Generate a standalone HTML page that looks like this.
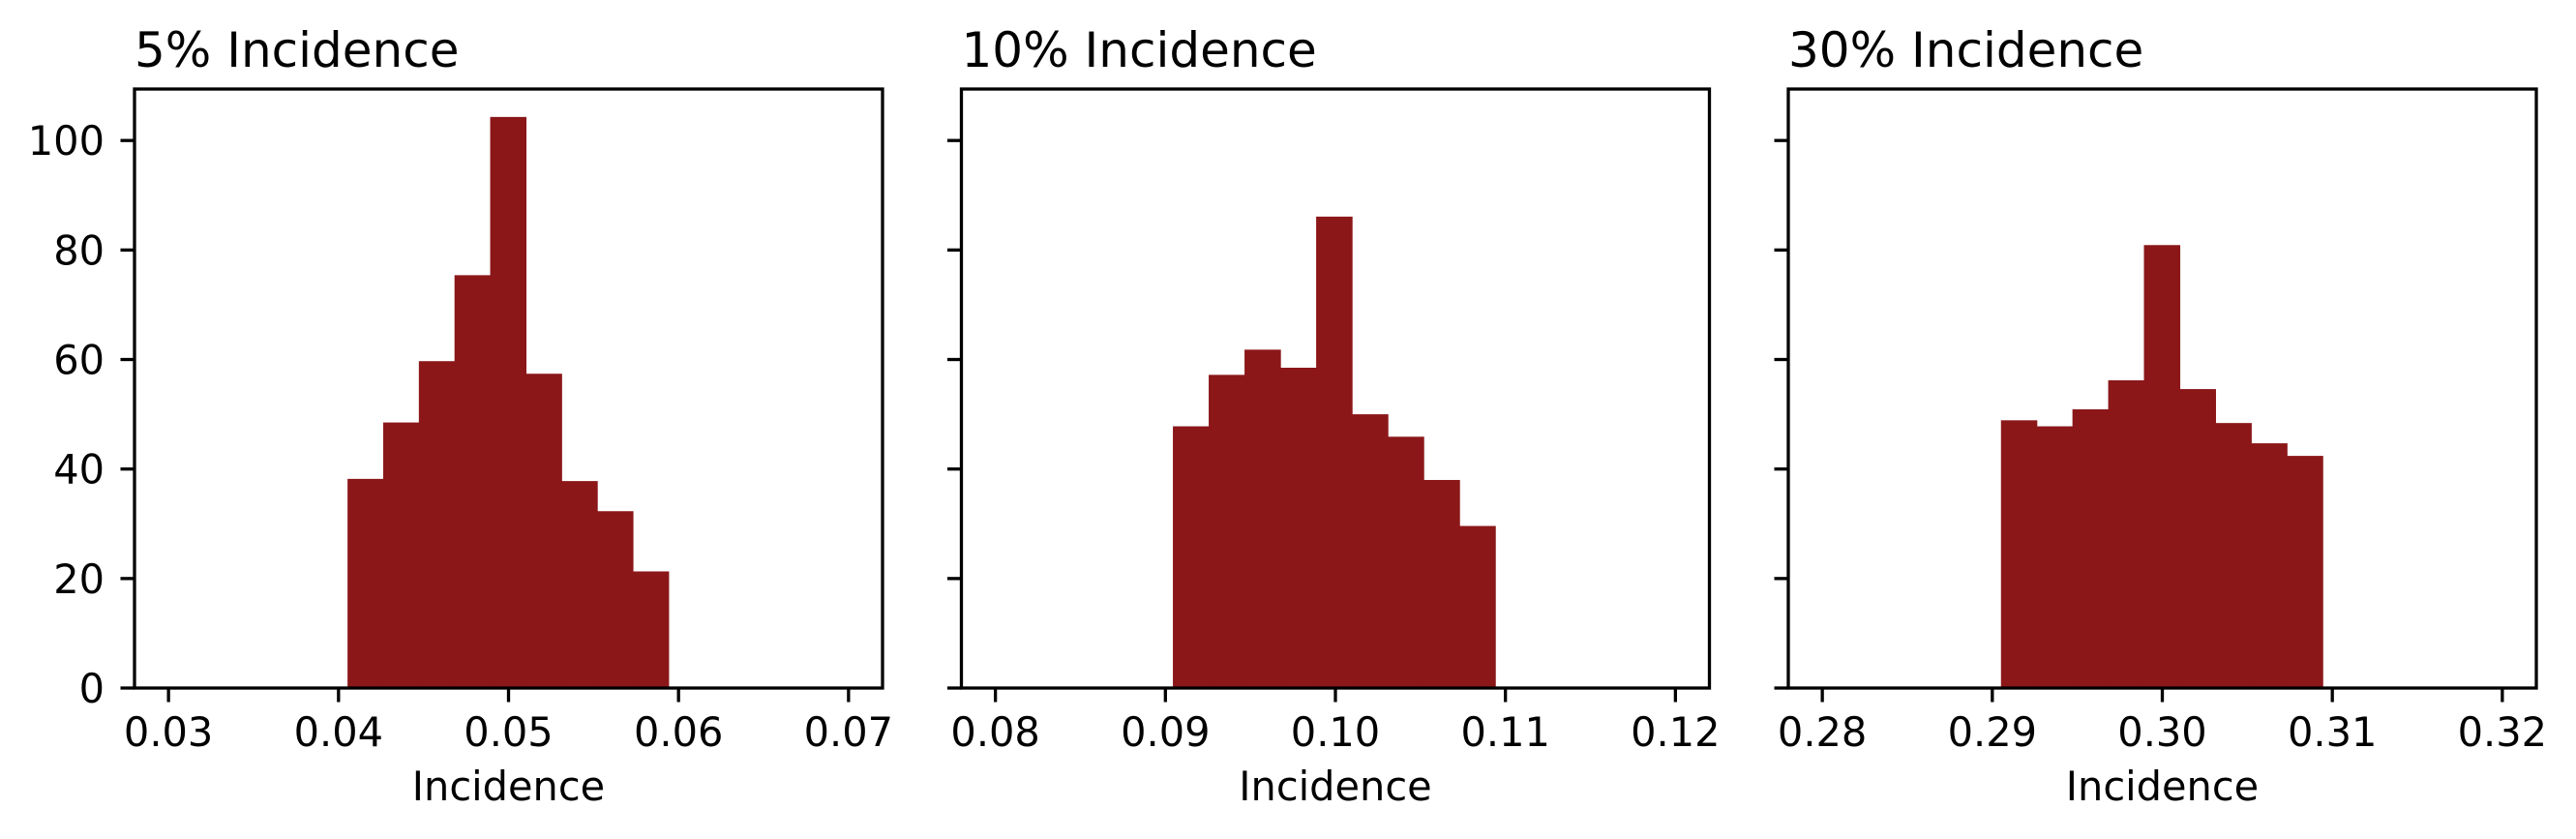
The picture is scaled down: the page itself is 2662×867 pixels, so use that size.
<!DOCTYPE html>
<html><head><meta charset="utf-8"><style>
html,body{margin:0;padding:0;background:#fff;}
svg{display:block;font-family:"DejaVu Sans","Liberation Sans",sans-serif;}
</style></head><body>
<svg id="chart" width="2662" height="867" viewBox="0 0 2662 867" xmlns="http://www.w3.org/2000/svg"></svg>
<script>
const titles = ["5% Incidence", "10% Incidence", "30% Incidence"];
const binStarts = [0.04053, 0.09044, 0.29051];
const binEnds = [0.05941, 0.10940, 0.30943];
const counts5 = [38.2, 48.5, 59.7, 75.4, 104.3, 57.4, 37.8, 32.3, 21.3];
const counts10 = [47.8, 57.2, 61.8, 58.5, 86.1, 50.0, 45.9, 38.0, 29.6];
const counts30 = [48.9, 47.8, 50.9, 56.2, 80.9, 54.6, 48.4, 44.7, 42.4];
const xTicks5 = [0.03, 0.04, 0.05, 0.06, 0.07];
const xTicks10 = [0.08, 0.09, 0.10, 0.11, 0.12];
const xTicks30 = [0.28, 0.29, 0.30, 0.31, 0.32];
const xLims = [[0.028, 0.072], [0.078, 0.122], [0.278, 0.322]];
const yTicks = [0, 20, 40, 60, 80, 100];
const yMax = 109.4;

const svg = document.getElementById('chart');
const NS = 'http://www.w3.org/2000/svg';
function mk(tag, attrs, parent) {
  const e = document.createElementNS(NS, tag);
  for (const k in attrs) e.setAttribute(k, attrs[k]);
  parent.appendChild(e);
  return e;
}
const allCounts = [counts5, counts10, counts30];
const allTicks = [xTicks5, xTicks10, xTicks30];
const lefts = [139, 993.5, 1848];
const W = 773, TOP = 92, BOT = 711;
const fill = '#8B1719';

for (let p = 0; p < 3; p++) {
  const L = lefts[p];
  const g = mk('g', {}, svg);
  
  
  const xs = v => L + (v - xLims[p][0]) / (xLims[p][1] - xLims[p][0]) * W;
  const ys = v => BOT - v / yMax * (BOT - TOP);
  const counts = allCounts[p];
  const bw = (binEnds[p] - binStarts[p]) / counts.length;
  counts.forEach((c, i) => {
    const x0 = xs(binStarts[p] + i * bw), x1 = xs(binStarts[p] + (i + 1) * bw);
    const r = mk('rect', {x: x0, y: ys(c), width: x1 - x0 + 0.6, height: ys(0) - ys(c), fill: fill}, g);
    
    
  });
  const frame = mk('rect', {x: L, y: TOP, width: W, height: BOT - TOP, fill: 'none', stroke: '#000', 'stroke-width': 3.3}, g);
  
  
  allTicks[p].forEach(t => {
    const x = xs(t);
    mk('line', {x1: x, x2: x, y1: BOT, y2: BOT + 14.5, stroke: '#000', 'stroke-width': 3.3}, g);
    const tx = mk('text', {x: x, y: 771, 'font-size': 41.5, 'text-anchor': 'middle', fill: '#000'}, g);
    tx.textContent = t.toFixed(2);
    
    
  });
  yTicks.forEach(t => {
    const y = ys(t);
    mk('line', {x1: L - 14.5, x2: L, y1: y, y2: y, stroke: '#000', 'stroke-width': 3.3}, g);
    if (p === 0) {
      const ty = mk('text', {x: L - 31, y: y + 15, 'font-size': 41.5, 'text-anchor': 'end', fill: '#000'}, g);
      ty.textContent = String(t);
      
      
    }
  });
  const xl = mk('text', {x: L + W / 2, y: 827, 'font-size': 41.5, 'text-anchor': 'middle', fill: '#000'}, g);
  xl.textContent = 'Incidence';
  
  
  const ti = mk('text', {x: L, y: 69, 'font-size': 50, fill: '#000'}, g);
  ti.textContent = titles[p];
  
  
}
</script>
</body></html>
